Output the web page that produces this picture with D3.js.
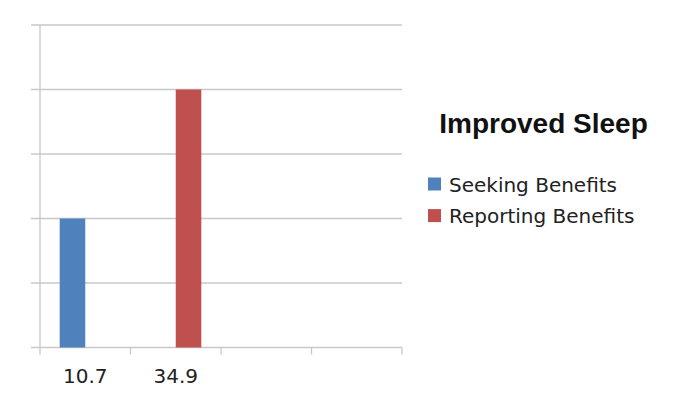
<!DOCTYPE html>
<html><head><meta charset="utf-8">
<script src="https://cdn.jsdelivr.net/npm/d3@7"></script>
<style>body{margin:0;background:#fff}svg{display:block}</style>
</head><body>
<svg id="c" width="685" height="413"></svg>
<script>
const categories = ["10.7", "34.9", "", ""];
const seriesNames = ["Seeking Benefits", "Reporting Benefits"];
const seekingValues = [2, 0, 0, 0];
const reportingValues = [0, 4, 0, 0];
const yTicks = [0, 1, 2, 3, 4, 5];
const title = "Improved Sleep";
const colors = ["#4F81BD", "#C0504D"];

(function () {
const svg = d3.select("#c");
const mLeft = 40, mRight = 402, mTop = 25, mBottom = 347.5;
const catKeys = categories.map((c, i) => i);
const x0 = d3.scaleBand().domain(catKeys).range([mLeft, mRight]).padding(0);
const x1 = d3.scaleBand().domain(seriesNames).range([0, x0.bandwidth()]).paddingInner(0).paddingOuter(0.77);
const y = d3.scaleLinear().domain([0, 5]).range([mBottom, mTop]);

svg.append("g").selectAll("line").data(yTicks).join("line")
  .attr("x1", 31).attr("x2", mRight)
  .attr("y1", d => y(d)).attr("y2", d => y(d))
  .attr("stroke", "#c8c8c8").attr("stroke-width", 1.3);

svg.append("line").attr("x1", mLeft).attr("x2", mLeft).attr("y1", mTop).attr("y2", mBottom + 7)
  .attr("stroke", "#c8c8c8").attr("stroke-width", 1.3);

const edges = catKeys.map(k => x0(k)).concat([mRight]);
svg.append("g").selectAll("line").data(edges.slice(1)).join("line")
  .attr("x1", d => d).attr("x2", d => d).attr("y1", mBottom).attr("y2", mBottom + 7)
  .attr("stroke", "#c8c8c8").attr("stroke-width", 1.3);

const data = [seekingValues, reportingValues];
data.forEach((vals, si) => {
  svg.append("g").selectAll("rect").data(vals.map((v, i) => ({i, v}))).join("rect")
    .attr("x", d => x0(d.i) + x1(seriesNames[si]))
    .attr("width", x1.bandwidth())
    .attr("y", d => y(d.v))
    .attr("height", d => y(0) - y(d.v))
    .attr("fill", colors[si]);
});

svg.append("g").selectAll("text").data(catKeys).join("text")
  .attr("x", d => x0(d) + x0.bandwidth() / 2)
  .attr("y", 383)
  .attr("text-anchor", "middle")
  .attr("font-family", "DejaVu Sans, sans-serif")
  .attr("font-size", 20)
  .attr("fill", "#222")
  .text(d => categories[d]);

svg.append("text").attr("x", 543.5).attr("y", 132.5).attr("text-anchor", "middle")
  .attr("font-family", "Liberation Sans, Arial, sans-serif").attr("font-weight", "bold")
  .attr("font-size", 28).attr("fill", "#111").text(title);

const lg = svg.append("g").selectAll("g").data(seriesNames).join("g")
  .attr("transform", (d, i) => `translate(428, ${177.5 + i * 31.6})`);
lg.append("rect").attr("width", 13).attr("height", 13).attr("fill", (d, i) => colors[i]);
lg.append("text").attr("x", 21).attr("y", 14)
  .attr("font-family", "DejaVu Sans, sans-serif").attr("font-size", 20).attr("fill", "#222")
  .text(d => d);
})();
</script>
</body></html>
